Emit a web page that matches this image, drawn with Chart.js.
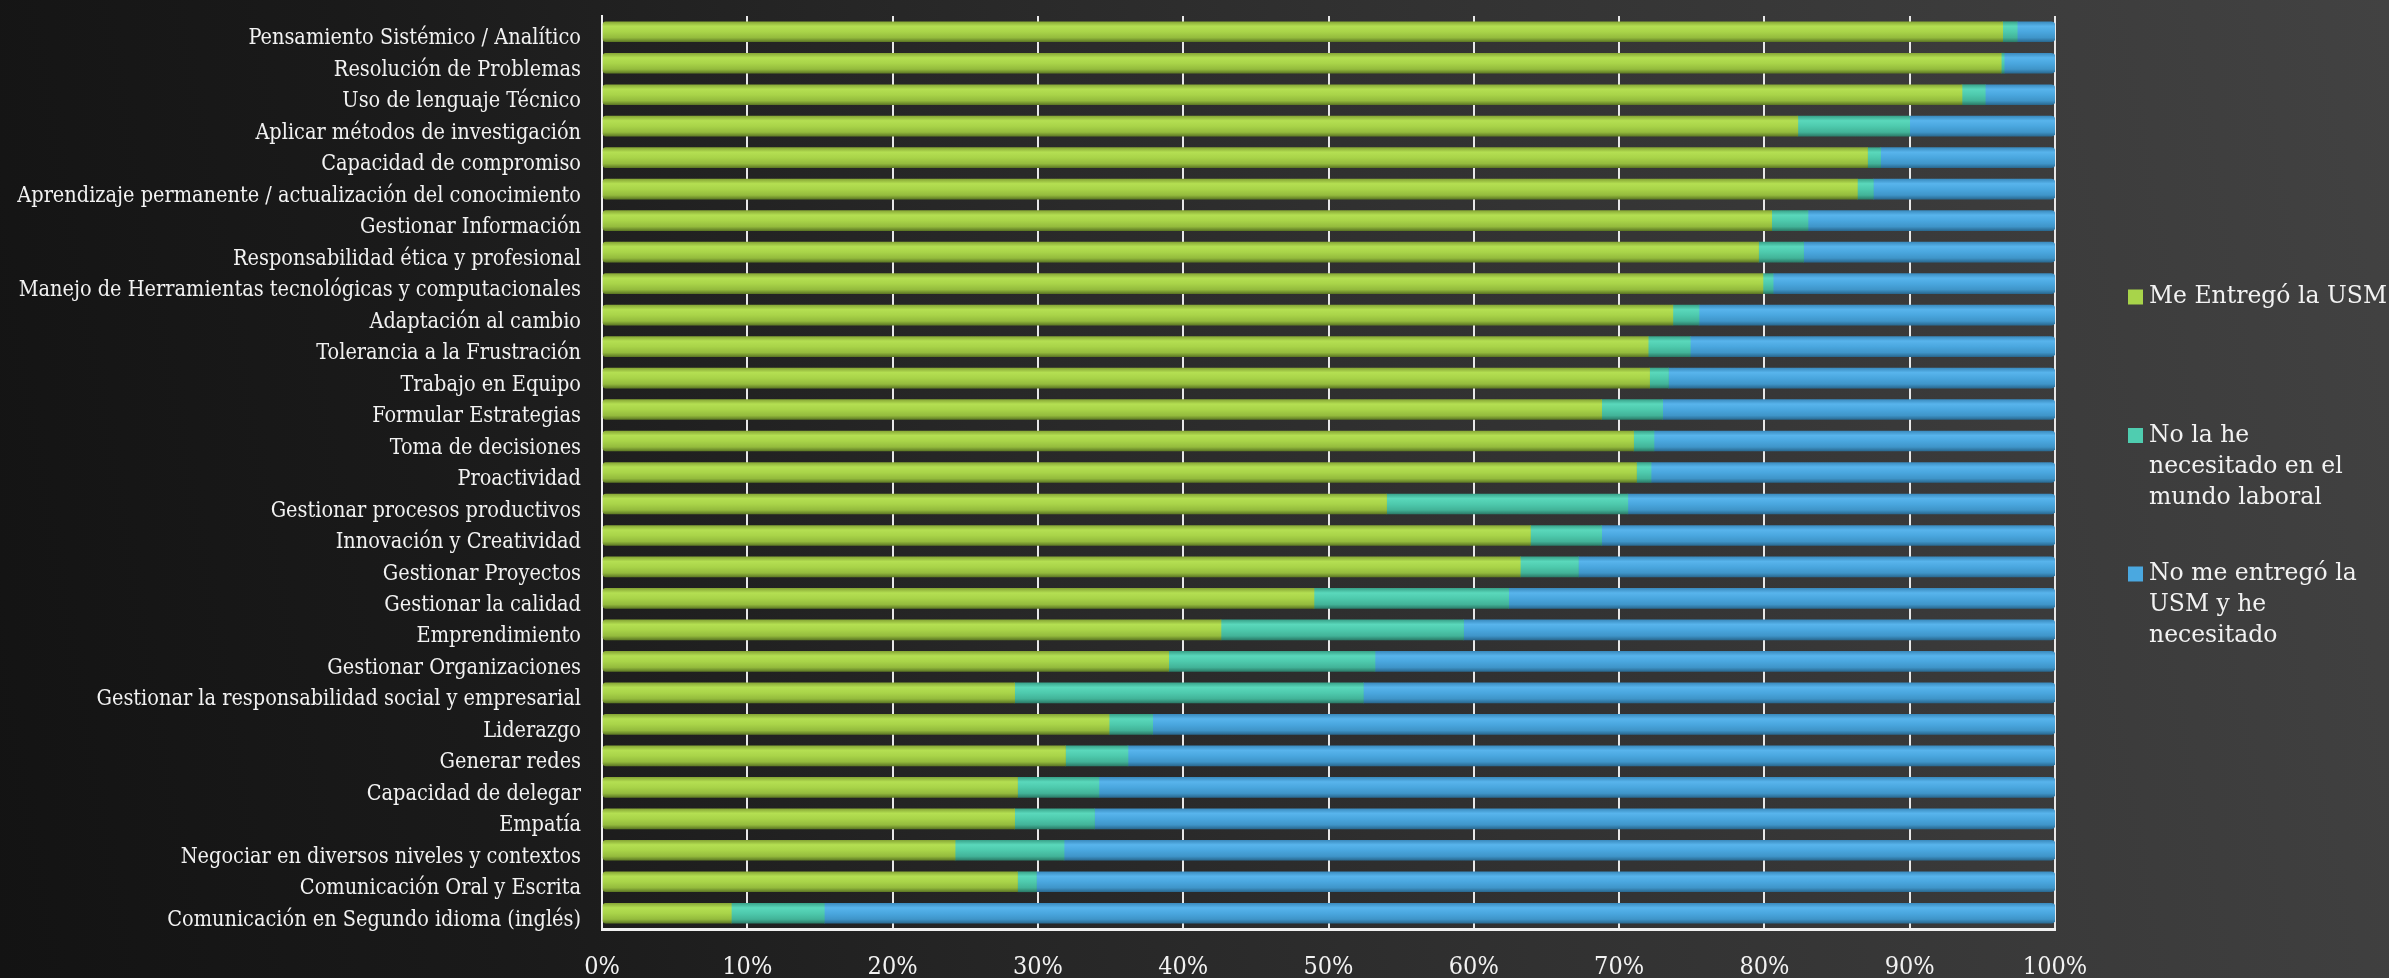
<!DOCTYPE html>
<html>
<head>
<meta charset="utf-8">
<script src="https://cdn.jsdelivr.net/npm/chart.js@4/dist/chart.umd.min.js"></script>
<style>
  html, body { margin: 0; padding: 0; width: 2389px; height: 978px; overflow: hidden; }
  body { background: linear-gradient(80deg, #131313 0%, #1a1a1a 20%, #262626 40%, #313131 60%, #3a3a3a 80%, #424242 100%); }
  #wrap { position: absolute; left: 0; top: 0; width: 2389px; height: 978px; }
</style>
</head>
<body>
<div id="wrap"><canvas id="c" width="2389" height="978"></canvas></div>
<script>
const categories = [
  "Pensamiento Sistémico / Analítico",
  "Resolución de Problemas",
  "Uso de lenguaje Técnico",
  "Aplicar métodos de investigación",
  "Capacidad de compromiso",
  "Aprendizaje permanente / actualización del conocimiento",
  "Gestionar Información",
  "Responsabilidad ética y profesional",
  "Manejo de Herramientas tecnológicas y computacionales",
  "Adaptación al cambio",
  "Tolerancia a la Frustración",
  "Trabajo en Equipo",
  "Formular Estrategias",
  "Toma de decisiones",
  "Proactividad",
  "Gestionar procesos productivos",
  "Innovación y Creatividad",
  "Gestionar Proyectos",
  "Gestionar la calidad",
  "Emprendimiento",
  "Gestionar Organizaciones",
  "Gestionar la responsabilidad social y empresarial",
  "Liderazgo",
  "Generar redes",
  "Capacidad de delegar",
  "Empatía",
  "Negociar en diversos niveles y contextos",
  "Comunicación Oral y Escrita",
  "Comunicación en Segundo idioma (inglés)"
];

// Series names, split into the lines shown in the legend
const seriesNames = [
  ["Me Entregó la USM"],
  ["No la he", "necesitado en el", "mundo laboral"],
  ["No me entregó la", "USM y he", "necesitado"]
];

const meEntrego = [96.4, 96.3, 93.6, 82.3, 87.1, 86.4, 80.5, 79.6, 79.9, 73.7,
                   72.0, 72.1, 68.8, 71.0, 71.2, 54.0, 63.9, 63.2, 49.0, 42.6,
                   39.0, 28.4, 34.9, 31.9, 28.6, 28.4, 24.3, 28.6, 8.9];
const noNecesitado = [1.0, 0.2, 1.6, 7.7, 0.9, 1.1, 2.5, 3.1, 0.7, 1.8,
                      2.9, 1.3, 4.2, 1.4, 1.0, 16.6, 4.9, 4.0, 13.4, 16.7,
                      14.2, 24.0, 3.0, 4.3, 5.6, 5.5, 7.5, 1.3, 6.4];
const noEntrego = [2.6, 3.5, 4.8, 10.0, 12.0, 12.5, 17.0, 17.3, 19.4, 24.5,
                   25.1, 26.6, 27.0, 27.6, 27.8, 29.4, 31.2, 32.8, 37.6, 40.7,
                   46.8, 47.6, 62.1, 63.8, 65.8, 66.1, 68.2, 70.1, 84.7];

const xTicks = [0, 10, 20, 30, 40, 50, 60, 70, 80, 90, 100];

// Styles
const BAR_T = 20;
const palettes = [
  { flat: '#a8d44a', stops: ['#88a836', '#b4df52', '#a9d449', '#94bb3d', '#5f7a25'] },
  { flat: '#4fcdb0', stops: ['#3aa58c', '#5ad8bb', '#4ecaad', '#42b398', '#2c7d6a'] },
  { flat: '#4aa8e0', stops: ['#3b8cc0', '#58b4ec', '#4aa7df', '#3f95c9', '#2a6a92'] }
];

const gradCache = {};
function cylinder(idx) {
  return (ctx) => {
    const chart = ctx.chart;
    const area = chart.chartArea;
    const yScale = chart.scales.y;
    if (!area || !yScale) return palettes[idx].flat;
    const key = idx + ':' + area.top + ':' + area.bottom;
    if (gradCache[key]) return gradCache[key];
    const H = area.bottom - area.top;
    const g = chart.ctx.createLinearGradient(0, area.top, 0, area.bottom);
    const s = palettes[idx].stops;
    const half = BAR_T / 2;
    const pos = p => Math.min(1, Math.max(0, (p - area.top) / H));
    categories.forEach((_, i) => {
      const c = yScale.getPixelForValue(i);
      g.addColorStop(pos(c - half), s[0]);
      g.addColorStop(pos(c - half * 0.55), s[1]);
      g.addColorStop(pos(c), s[2]);
      g.addColorStop(pos(c + half * 0.6), s[3]);
      g.addColorStop(pos(c + half), s[4]);
    });
    gradCache[key] = g;
    return g;
  };
}

const LEGEND_FONT = '23.5px "DejaVu Serif"';
const sideLegend = {
  id: 'sideLegend',
  afterDraw(chart) {
    const ctx = chart.ctx;
    const area = chart.chartArea;
    ctx.save();
    ctx.font = LEGEND_FONT;
    ctx.textBaseline = 'middle';
    ctx.textAlign = 'left';
    const sqX = area.right + 73;
    const txX = area.right + 94;
    const firstY = area.top + 281;
    const pitch = 138.5;
    const lineH = 31;
    chart.data.datasets.forEach((ds, i) => {
      const lines = ds.legendLines;
      const y0 = firstY + i * pitch;
      ctx.fillStyle = palettes[i].flat;
      ctx.fillRect(sqX, y0 - 7.5, 15, 15);
      ctx.fillStyle = '#f2f2f2';
      lines.forEach((ln, k) => ctx.fillText(ln, txX, y0 + k * lineH));
    });
    ctx.restore();
  }
};

const seriesData = [meEntrego, noNecesitado, noEntrego];

new Chart(document.getElementById('c'), {
  type: 'bar',
  data: {
    labels: categories,
    datasets: seriesNames.map((name, i) => ({
      label: name.join(' '),
      legendLines: name,
      data: seriesData[i],
      backgroundColor: cylinder(i),
      borderWidth: 0,
      barThickness: BAR_T,
      borderSkipped: false,
      borderRadius: i === 2 ? { topRight: 4, bottomRight: 4 } : (i === 0 ? { topLeft: 3, bottomLeft: 3 } : 0)
    }))
  },
  options: {
    indexAxis: 'y',
    responsive: false,
    animation: false,
    devicePixelRatio: 1,
    layout: { padding: { left: 0, right: 334, top: 16, bottom: 0 } },
    plugins: {
      legend: { display: false },
      tooltip: { enabled: false }
    },
    scales: {
      x: {
        stacked: true,
        min: 0,
        max: 100,
        afterBuildTicks: (scale) => { scale.ticks = xTicks.map(v => ({ value: v })); },
        afterFit: (scale) => { scale.height = 49; },
        grid: { color: '#e8e8e8', lineWidth: 2, drawTicks: false },
        border: { display: true, color: '#f0f0f0', width: 3 },
        ticks: {
          color: '#f2f2f2',
          padding: 23,
          font: { family: '"DejaVu Serif Condensed", "DejaVu Serif"', size: 25 },
          callback: (v) => v + '%'
        }
      },
      y: {
        stacked: true,
        afterFit: (scale) => { scale.width = 602; scale.paddingTop = 0; scale.paddingBottom = 0; },
        grid: { display: false, drawTicks: false },
        border: { display: true, color: '#f0f0f0', width: 2 },
        ticks: {
          color: '#f2f2f2',
          padding: 21,
          labelOffset: 7,
          autoSkip: false,
          font: { family: '"DejaVu Serif Condensed", "DejaVu Serif"', size: 21.5 }
        }
      }
    }
  },
  plugins: [sideLegend]
});
</script>
</body>
</html>
